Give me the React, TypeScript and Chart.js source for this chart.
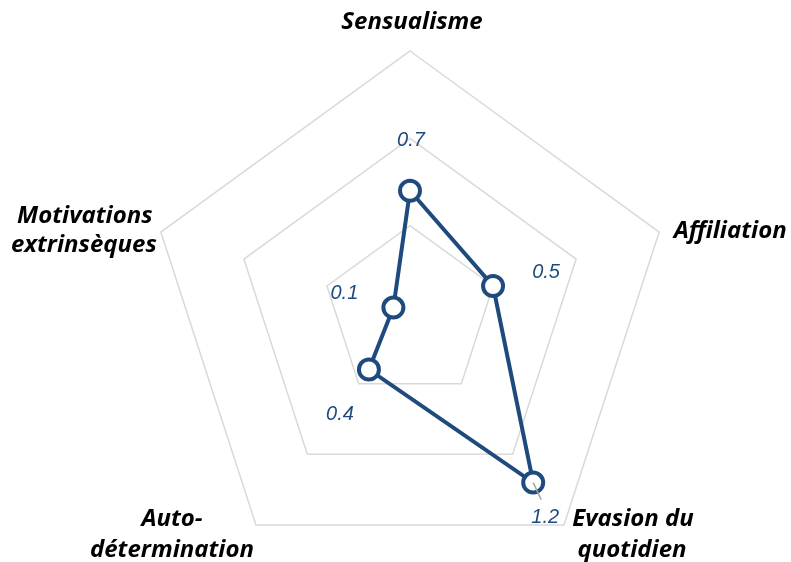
import React, { useEffect, useRef } from "react";
import { Chart, registerables } from "chart.js";

Chart.register(...registerables);

// ---- Data ----
const categories = [
  "Sensualisme",
  "Affiliation",
  "Evasion du quotidien",
  "Auto-détermination",
  "Motivations extrinsèques",
];
const categoryLines = [
  ["Sensualisme"],
  ["Affiliation"],
  ["Evasion du", "quotidien"],
  ["Auto-", "détermination"],
  ["Motivations", "extrinsèques"],
];
const values = [0.7, 0.5, 1.2, 0.4, 0.1];
const valueLabels = ["0.7", "0.5", "1.2", "0.4", "0.1"];
const scaleMin = 0;
const scaleMax = 1.5;
const scaleStep = 0.5;

// ---- Styles / layout ----
const LINE_COLOR = "#1F4A7E";
const VALUE_COLOR = "#1F4A7E";
const GRID_COLOR = "#D9D9D9";
const CAT_FONT = "italic bold 24px 'Open Sans'";
const VALUE_FONT = "italic 20px 'Liberation Sans'";
// offsets of each category label line centre from the outer vertex
const categoryOffsets: number[][][] = [
  [[2, -29]],
  [[71, -1]],
  [[69, -6], [68, 25]],
  [[-84, -6], [-84, 25]],
  [[-76, -16], [-77, 13]],
];
// offsets of value label centres from the data point
const valueOffsets: number[][] = [
  [1, -50],
  [53, -14],
  [12, 35],
  [-29, 45],
  [-49, -14],
];
const leaderIndex = 2;
const leaderEnd = [8, 17];

const labelPlugin = {
  id: "radarLabels",
  afterDatasetsDraw(chart: any) {
    const ctx = chart.ctx;
    const scale = chart.scales.r;
    const meta = chart.getDatasetMeta(0);
    ctx.save();
    // leader line
    const lp = meta.data[leaderIndex];
    ctx.strokeStyle = "#A6A6A6";
    ctx.lineWidth = 1.5;
    ctx.beginPath();
    ctx.moveTo(lp.x, lp.y);
    ctx.lineTo(lp.x + leaderEnd[0], lp.y + leaderEnd[1]);
    ctx.stroke();
    // value labels
    ctx.font = VALUE_FONT;
    ctx.fillStyle = VALUE_COLOR;
    ctx.textAlign = "center";
    ctx.textBaseline = "middle";
    meta.data.forEach((pt: any, i: number) => {
      ctx.fillText(valueLabels[i], pt.x + valueOffsets[i][0], pt.y + valueOffsets[i][1]);
    });
    // category labels
    ctx.font = CAT_FONT;
    ctx.fillStyle = "#000000";
    categoryLines.forEach((lines, i) => {
      const v = scale.getPointPosition(i, scale.drawingArea);
      lines.forEach((t, j) => {
        const off = categoryOffsets[i][j];
        ctx.fillText(t, v.x + off[0], v.y + off[1]);
      });
    });
    ctx.restore();
  },
};

export default function App() {
  const ref = useRef<HTMLCanvasElement | null>(null);
  useEffect(() => {
    if (!ref.current) return;
    const chart = new Chart(ref.current, {
      type: "radar",
      data: {
        labels: categories,
        datasets: [
          {
            data: values,
            borderColor: LINE_COLOR,
            borderWidth: 4,
            backgroundColor: "rgba(0,0,0,0)",
            fill: false,
            pointRadius: 10,
            pointBorderWidth: 4,
            pointBackgroundColor: "#FFFFFF",
            pointBorderColor: LINE_COLOR,
            tension: 0,
          },
        ],
      },
      options: {
        animation: false,
        responsive: true,
        maintainAspectRatio: false,
        layout: { padding: { left: 148, right: 119, top: 51, bottom: 25 } },
        plugins: { legend: { display: false }, tooltip: { enabled: false } },
        scales: {
          r: {
            min: scaleMin,
            max: scaleMax,
            ticks: { display: false, stepSize: scaleStep },
            grid: { color: GRID_COLOR, lineWidth: 1.5 },
            angleLines: { display: false },
            pointLabels: { display: false },
          },
        },
      },
      plugins: [labelPlugin],
    });
    return () => chart.destroy();
  }, []);
  return (
    <div style={{ position: "fixed", left: 0, top: 0, width: 791, height: 600, background: "#fff" }}>
      <canvas ref={ref} />
    </div>
  );
}
